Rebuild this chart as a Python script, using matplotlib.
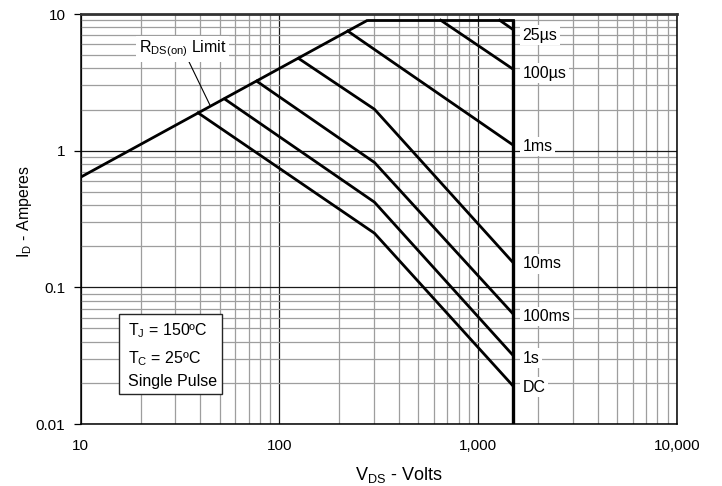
import matplotlib
matplotlib.use("Agg")
import matplotlib.pyplot as plt
import matplotlib.ticker as mtick
from matplotlib.patches import Rectangle
import numpy as np

plt.rcParams["font.family"] = ["Liberation Sans", "DejaVu Sans"]
plt.rcParams["mathtext.fontset"] = "custom"
plt.rcParams["mathtext.rm"] = "Liberation Sans"
plt.rcParams["mathtext.it"] = "Liberation Sans:italic"

################################################################################
## Data

rds_v = [10, 278]
rds_i = [0.64, 9.0]

idmax_v = [278, 1500]
idmax_i = [9.0, 9.0]

vdss_v = [1500, 1500]
vdss_i = [9.0, 0.01]

curve_labels = ["25µs", "100µs", "1ms", "10ms", "100ms", "1s", "DC"]
curve_v = [
    [1285, 1500],
    [649, 1500],
    [221, 1500],
    [125, 301, 1500],
    [77, 301, 1500],
    [53, 301, 1500],
    [39, 301, 1500],
]
curve_i = [
    [9.0, 7.7],
    [9.0, 3.95],
    [7.5, 1.1],
    [4.73, 2.01, 0.152],
    [3.22, 0.82, 0.064],
    [2.39, 0.42, 0.0318],
    [1.89, 0.249, 0.019],
]
# small vertical nudges so labels sit like the original (points)
label_dy = [-4, -3, -1, -1, -2, -2, -1]

xticks = [10, 100, 1000, 10000]
xticklabels = ["10", "100", "1,000", "10,000"]
yticks = [0.01, 0.1, 1, 10]
yticklabels = ["0.01", "0.1", "1", "10"]

################################################################################
## Figure

W, H = 722, 486
fig = plt.figure(figsize=(W / 100, H / 100), dpi=100)


def px(x, y):
    return x / W, 1 - y / H


ax = fig.add_axes([80.7 / W, 1 - 424 / H, 596 / W, 410 / H])
ax.set_xscale("log")
ax.set_yscale("log")
ax.set_xlim(10, 10000)
ax.set_ylim(0.01, 10)

ax.xaxis.set_minor_locator(mtick.LogLocator(base=10, subs=np.arange(2, 10)))
ax.yaxis.set_minor_locator(mtick.LogLocator(base=10, subs=np.arange(2, 10)))
ax.xaxis.set_minor_formatter(mtick.NullFormatter())
ax.yaxis.set_minor_formatter(mtick.NullFormatter())
ax.set_xticks(xticks, labels=xticklabels)
ax.set_yticks(yticks, labels=yticklabels)

ax.grid(which="minor", color="0.62", lw=0.9, zorder=0)
ax.grid(which="major", color="0.1", lw=0.9, zorder=0)
ax.set_axisbelow(True)

ax.tick_params(axis="x", which="both", length=0, pad=11, labelsize=11)
ax.tick_params(axis="y", which="major", length=5, width=0.9, pad=6,
               labelsize=11, direction="out")
ax.tick_params(axis="y", which="minor", length=0)

for s in ["left", "right", "bottom"]:
    ax.spines[s].set_linewidth(1.1)
    ax.spines[s].set_color("0")
ax.spines["top"].set_linewidth(2.0)
ax.spines["top"].set_color("0.2")

lw = 2.0
ax.plot(rds_v, rds_i, color="0", lw=lw, solid_capstyle="butt", zorder=5)
ax.plot(idmax_v, idmax_i, color="0", lw=lw, zorder=5)
ax.plot(vdss_v, vdss_i, color="0", lw=2.4, zorder=6, solid_capstyle="butt")

for lab, v, i, dy in zip(curve_labels, curve_v, curve_i, label_dy):
    ax.plot(v, i, color="0", lw=lw, zorder=5, solid_joinstyle="miter")
    ax.annotate(
        lab,
        xy=(v[-1], i[-1]),
        xytext=(7, dy),
        textcoords="offset points",
        ha="left",
        va="center",
        fontsize=11.5,
        bbox=dict(boxstyle="square,pad=0.15", fc="1", ec="none"),
        zorder=7,
    )

# RDS(on) limit callout
tip_v = 45
tip_i = 10 ** np.interp(np.log10(tip_v), np.log10(rds_v), np.log10(rds_i))
ax.annotate(
    r"R$_{\mathrm{DS(on)}}$ Limit",
    xy=(tip_v, tip_i),
    xytext=(182.5, H - 49),
    textcoords="figure pixels",
    ha="center",
    va="center",
    fontsize=11.5,
    bbox=dict(boxstyle="square,pad=0.15", fc="1", ec="none"),
    arrowprops=dict(arrowstyle="-", color="0", lw=0.8, relpos=(0.56, 0.0),
                    shrinkA=0, shrinkB=0),
    zorder=7,
)

# conditions box
x0, y0 = px(119.3, 393.5)
x1, y1 = px(221.5, 314.3)
fig.patches.append(Rectangle((x0, y0), x1 - x0, y1 - y0, transform=fig.transFigure,
                             fc="1", ec="0.15", lw=1.0, zorder=8))
for txt, yy in [(r"T$_{\mathrm{J}}$ = 150ºC", 331),
                (r"T$_{\mathrm{C}}$ = 25ºC", 359),
                ("Single Pulse", 381)]:
    fig.text(*px(128, yy), txt, ha="left", va="center", fontsize=11.5, zorder=9)

# axis labels
fig.text(*px(399, 480), r"V$_{\mathrm{DS}}$ - Volts", ha="center", va="baseline",
         fontsize=13)
fig.text(*px(24, 212), r"I$_{\mathrm{D}}$ - Amperes", ha="center", va="center",
         rotation=90, fontsize=11.5)

fig.savefig("out.png", dpi=100)
